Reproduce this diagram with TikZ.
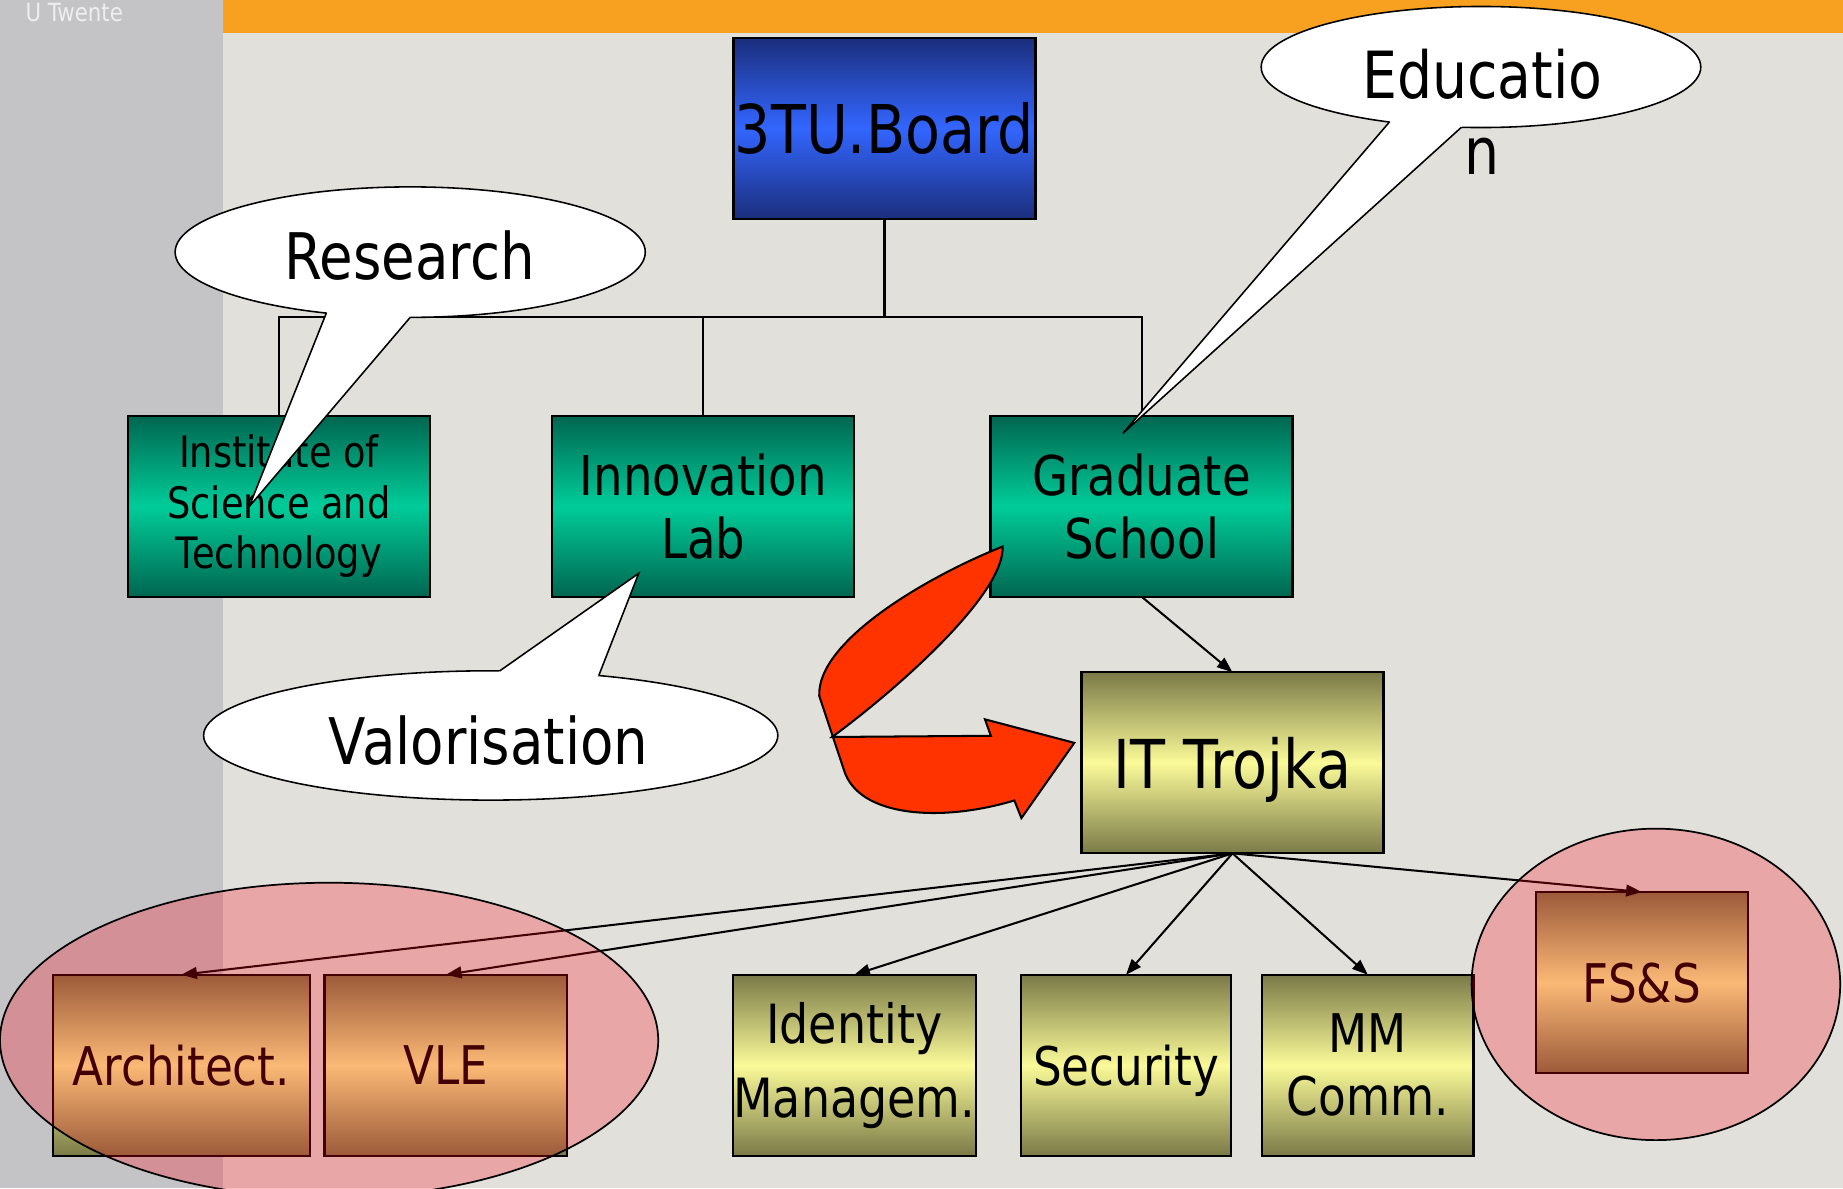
\documentclass[tikz,border=0pt]{standalone}
\usepackage{fontspec}
\setmainfont{DejaVu Sans}[FakeStretch=0.85]
\usepackage{tikz}
\usepackage{xcolor}
\usetikzlibrary{arrows.meta,shapes.geometric}

\definecolor{slidebg}{HTML}{E2E0DB}
\definecolor{sidegray}{HTML}{C4C4C6}
\definecolor{barorange}{HTML}{F8A01F}
\definecolor{logogray}{HTML}{EEEEEE}
\definecolor{boardblue}{HTML}{3366FF}
\definecolor{boarddark}{HTML}{1B2E7C}
\definecolor{unigreen}{HTML}{00CC99}
\definecolor{unidark}{HTML}{006650}
\definecolor{itlight}{HTML}{FAFA99}
\definecolor{itdark}{HTML}{7A7A48}
\definecolor{bendred}{HTML}{FF3300}
\definecolor{grouped}{RGB}{255,0,20}

\begin{document}
\begin{tikzpicture}[x=0.75pt,y=0.75pt,yscale=-1,xscale=1,
  box/.style={draw=black,line width=1.4pt,minimum width=192.75pt,minimum height=115.5pt,inner sep=0pt,outer sep=0pt},
  board/.style={box,top color=boarddark,bottom color=boarddark,middle color=boardblue},
  unit/.style={box,top color=unidark,bottom color=unidark,middle color=unigreen},
  itbox/.style={box,top color=itdark,bottom color=itdark,middle color=itlight},
  link/.style={line width=1.3pt},
  feed/.style={line width=1.3pt,-{Triangle[length=10pt,width=7.5pt]}},
  bubble/.style={ellipse,draw=black,fill=white,line width=1pt,inner sep=0pt,outer sep=0pt},
  tail/.style={line width=1pt},
  grouping/.style={draw=black,line width=1.1pt,fill=grouped,fill opacity=0.26},
  bendarrow/.style={draw=black,line width=1.3pt,fill=bendred}]
\useasboundingbox (0,0) rectangle (1568,1011);
\clip (0,0) rectangle (1568,1011);

% slide background
\fill[slidebg] (0,0) rectangle (1568,1011);
\fill[sidegray] (0,0) rectangle (189.5,1011);
\fill[barorange] (189.5,0) rectangle (1568,27.8);
\node[anchor=base west,text=logogray,font=\fontsize{16}{18}\selectfont] (uni) at (17,18) {U Twente};

% board and the three units
\node[board,text depth=0pt,font=\fontsize{42.9}{50}\selectfont] (tub) at (752.5,109) {3TU.Board};
\node[unit,align=center,font=\fontsize{27.6}{32}\selectfont] (ist) at (237.3,430.6) {Institute of\\Science and\\Technology};
\node[unit,align=center,font=\fontsize{35}{40.2}\selectfont] (lab) at (598.3,430.6) {Innovation\\Lab};
\node[unit,align=center,font=\fontsize{35}{40.2}\selectfont] (grad) at (971.2,430.6) {Graduate\\School};
\node[itbox,text depth=0pt,font=\fontsize{43}{50}\selectfont] (trojka) at (1048.6,649) {IT Trojka};

% IT Trojka tasks
\node[itbox,minimum width=164.1pt,text depth=0pt,font=\fontsize{34}{40}\selectfont] (arch) at (154.2,906.3) {Architect.};
\node[itbox,minimum width=155pt,text depth=0pt,font=\fontsize{34}{40}\selectfont] (vle) at (379.4,906.3) {VLE};
\node[itbox,minimum width=154.9pt,align=center,font=\fontsize{34.5}{47.4}\selectfont] (idm) at (726.8,906.3) {Identity\\Managem.};
\node[itbox,minimum width=134.4pt,text depth=0pt,font=\fontsize{34}{40}\selectfont] (sec) at (958,906.3) {Security};
\node[itbox,minimum width=135pt,align=center,font=\fontsize{34}{40.3}\selectfont] (mm) at (1163.7,906.3) {MM\\Comm.};
\node[itbox,minimum width=135.3pt,text depth=0pt,font=\fontsize{34}{40}\selectfont] (fss) at (1396.8,835.9) {FS\&S};

% tree under the board
\coordinate (bus) at (752.5,269.4);
\draw[link] (tub.south) -- (bus);
\draw[link] (ist.north) |- (bus);
\draw[link] (lab.north) |- (bus);
\draw[link] (grad.north) |- (bus);

% arrows
\draw[feed] (grad.south) -- (trojka.north);
\foreach \task in {arch,vle,idm,sec,mm,fss}
  \draw[feed] (trojka.south) -- (\task.north);

% bent red arrow
\filldraw[bendarrow] (853,465) .. controls (790,490) and (695,545) .. (697,592) -- (718,655)
  .. controls (730,695) and (800,700) .. (863,681) -- (869,696) -- (914,632) -- (838,612)
  -- (843,626) -- (708,627) .. controls (765,585) and (855,505) .. (853,465) -- cycle;

% callouts
\node[bubble,minimum width=300pt,minimum height=83.25pt] (res) at (349,214.5) {};
\coordinate (restip) at (212,431);
\fill[white] (res.216.8) -- (restip) -- (res.270) -- (res.center) -- cycle;
\draw[tail] (res.216.8) -- (restip) -- (res.270);
\node[anchor=base,font=\fontsize{41}{48}\selectfont] (restext) at (348.4,238.2) {Research};

\node[bubble,minimum width=280.5pt,minimum height=77.25pt] (edu) at (1260,57) {};
\coordinate (edutip) at (955.3,368.7);
\fill[white] (edu.211.1) -- (edutip) -- (edu.252.5) -- (edu.center) -- cycle;
\draw[tail] (edu.211.1) -- (edutip) -- (edu.252.5);
\node[align=center,font=\fontsize{41.5}{48.5}\selectfont] (edutext) at (1261,95.5) {Educatio\\n};

\node[bubble,minimum width=366.4pt,minimum height=82.5pt] (val) at (417.5,625.7) {};
\coordinate (valtip) at (543.4,487.8);
\fill[white] (val.82.1) -- (valtip) -- (val.29.4) -- (val.center) -- cycle;
\draw[tail] (val.82.1) -- (valtip) -- (val.29.4);
\node[anchor=base,font=\fontsize{41}{48}\selectfont] (valtext) at (415.7,650.8) {Valorisation};

% groups
\draw[grouping] (280,885) ellipse [x radius=280, y radius=134];
\draw[grouping] (1408.8,837.5) ellipse [x radius=156.8, y radius=132.5];

\end{tikzpicture}
\end{document}
